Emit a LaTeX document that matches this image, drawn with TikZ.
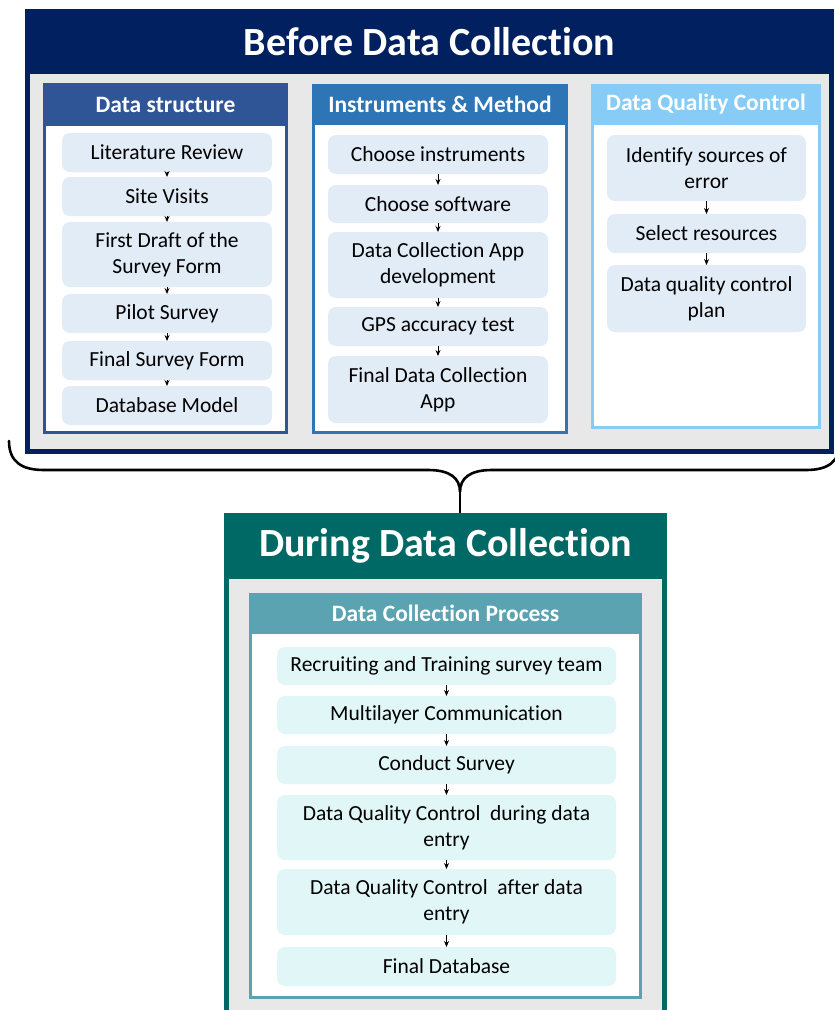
\documentclass[tikz,border=0pt]{standalone}
\usepackage{fontspec}
\setmainfont{Carlito}[Ligatures=CommonOff]
\usetikzlibrary{arrows.meta}
\definecolor{navy}{HTML}{002060}
\definecolor{panelgray}{HTML}{E8E8E8}
\definecolor{dscol}{HTML}{2F5597}
\definecolor{inscol}{HTML}{2E75B6}
\definecolor{dqccol}{HTML}{87CCF6}
\definecolor{itemblue}{HTML}{E2ECF7}
\definecolor{tealbox}{HTML}{006865}
\definecolor{dcpcol}{HTML}{5BA3B1}
\definecolor{itemcyan}{HTML}{E1F6F7}
\tikzset{
  plain/.style={inner sep=0pt, outer sep=0pt},
  bigtitle/.style={plain, text=white, font=\fontsize{40}{46}\selectfont\bfseries},
  hdr/.style={plain, text=white, font=\fontsize{23.5}{28}\selectfont\bfseries},
  frame/.style={plain, fill=white, line width=3pt},
  item/.style={rounded corners=8pt, inner sep=2pt, outer sep=0pt, align=center,
    font=\fontsize{21.5}{26}\selectfont, text=black},
  dsitem/.style={item, fill=itemblue, minimum width=210pt},
  initem/.style={item, fill=itemblue, minimum width=220pt},
  dqitem/.style={item, fill=itemblue, minimum width=199pt},
  dcitem/.style={item, fill=itemcyan, minimum width=339pt},
  arr/.style={-{Stealth[length=6pt,width=5pt]}, line width=0.9pt, black},
  bracestyle/.style={line width=2.6pt, black, line cap=round}
}
\begin{document}
\begin{tikzpicture}[x=1pt,y=-1pt]
\useasboundingbox (0,0) rectangle (835,1010);
% ---------- Before Data Collection ----------
\node[plain, fill=navy, minimum width=809pt, minimum height=445pt] (before) at (429.5,231.5) {};
\node[plain, fill=panelgray, minimum width=799pt, minimum height=375pt] (beforein) at (429.5,261.5) {};
\node[bigtitle] (beforetitle) at (429.5,42) {Before Data Collection};

% Data structure panel
\node[frame, draw=dscol, minimum width=242pt, minimum height=348pt] (dsp) at (165.5,258.5) {};
\node[hdr, fill=dscol, minimum width=245pt, minimum height=43pt] (dsh) at (165.5,104.5) {Data structure};
\node[dsitem, minimum height=39pt] (d1) at (167,152.5) {Literature Review};
\node[dsitem, minimum height=39pt] (d2) at (167,196.5) {Site Visits};
\node[dsitem, minimum height=65pt] (d3) at (167,254.5) {First Draft of the\\Survey Form};
\node[dsitem, minimum height=39pt] (d4) at (167,313.5) {Pilot Survey};
\node[dsitem, minimum height=39pt] (d5) at (167,360.5) {Final Survey Form};
\node[dsitem, minimum height=39pt] (d6) at (167,405.5) {Database Model};
\draw[arr] (d1) -- (d2);
\draw[arr] (d2) -- (d3);
\draw[arr] (d3) -- (d4);
\draw[arr] (d4) -- (d5);
\draw[arr] (d5) -- (d6);

% Instruments & Method panel
\node[frame, draw=inscol, minimum width=253pt, minimum height=347pt] (inp) at (440,259) {};
\node[hdr, fill=inscol, minimum width=256pt, minimum height=41pt] (inh) at (440,104.5) {Instruments \& Method};
\node[initem, minimum height=39pt] (i1) at (438,154.5) {Choose instruments};
\node[initem, minimum height=38pt] (i2) at (438,204) {Choose software};
\node[initem, minimum height=66pt] (i3) at (438,265) {Data Collection App\\development};
\node[initem, minimum height=39pt] (i4) at (438,326.5) {GPS accuracy test};
\node[initem, minimum height=67pt] (i5) at (438,389.5) {Final Data Collection\\App};
\draw[arr] (i1) -- (i2);
\draw[arr] (i2) -- (i3);
\draw[arr] (i3) -- (i4);
\draw[arr] (i4) -- (i5);

% Data Quality Control panel
\node[frame, draw=dqccol, minimum width=227pt, minimum height=342pt] (dqp) at (706,256.5) {};
\node[hdr, fill=dqccol, minimum width=230pt, minimum height=41pt] (dqh) at (706,104.5) {Data Quality Control};
\node[dqitem, minimum height=66pt] (q1) at (706.5,168) {Identify sources of\\error};
\node[dqitem, minimum height=39pt] (q2) at (706.5,233.5) {Select resources};
\node[dqitem, minimum height=67pt] (q3) at (706.5,298.5) {Data quality control\\plan};
\draw[arr] (q1) -- (q2);
\draw[arr] (q2) -- (q3);

% ---------- Brace ----------
\draw[bracestyle] (9,441) .. controls (9,462) and (22,470) .. (44,470)
  -- (428,470) .. controls (450,470) and (460,478) .. (460,492) coordinate (bracetip)
  .. controls (460,478) and (470,470) .. (492,470)
  -- (806,470) .. controls (828,470) and (840,462) .. (840,441);

% ---------- During Data Collection ----------
\node[plain, fill=tealbox, minimum width=443pt, minimum height=507pt] (during) at (445.5,766.5) {};
\node[plain, fill=panelgray, minimum width=433pt, minimum height=441pt] (duringin) at (445.5,799.5) {};
\node[bigtitle] (duringtitle) at (445.5,546) {During Data Collection};
\draw[line width=2.6pt] (bracetip) -- (bracetip |- during.north);

% Data Collection Process panel
\node[frame, draw=dcpcol, minimum width=390pt, minimum height=403pt] (dcp) at (445.5,796) {};
\node[hdr, fill=dcpcol, minimum width=393pt, minimum height=41pt] (dch) at (445.5,613.5) {Data Collection Process};
\node[dcitem, minimum height=38pt] (c1) at (446.5,666) {Recruiting and Training survey team};
\node[dcitem, minimum height=38pt] (c2) at (446.5,715) {Multilayer Communication};
\node[dcitem, minimum height=38pt] (c3) at (446.5,765) {Conduct Survey};
\node[dcitem, minimum height=65pt] (c4) at (446.5,827.5) {Data Quality Control~ during data\\entry};
\node[dcitem, minimum height=66pt] (c5) at (446.5,902) {Data Quality Control~ after data\\entry};
\node[dcitem, minimum height=39pt] (c6) at (446.5,966.5) {Final Database};
\draw[arr] (c1) -- (c2);
\draw[arr] (c2) -- (c3);
\draw[arr] (c3) -- (c4);
\draw[arr] (c4) -- (c5);
\draw[arr] (c5) -- (c6);
\end{tikzpicture}
\end{document}
